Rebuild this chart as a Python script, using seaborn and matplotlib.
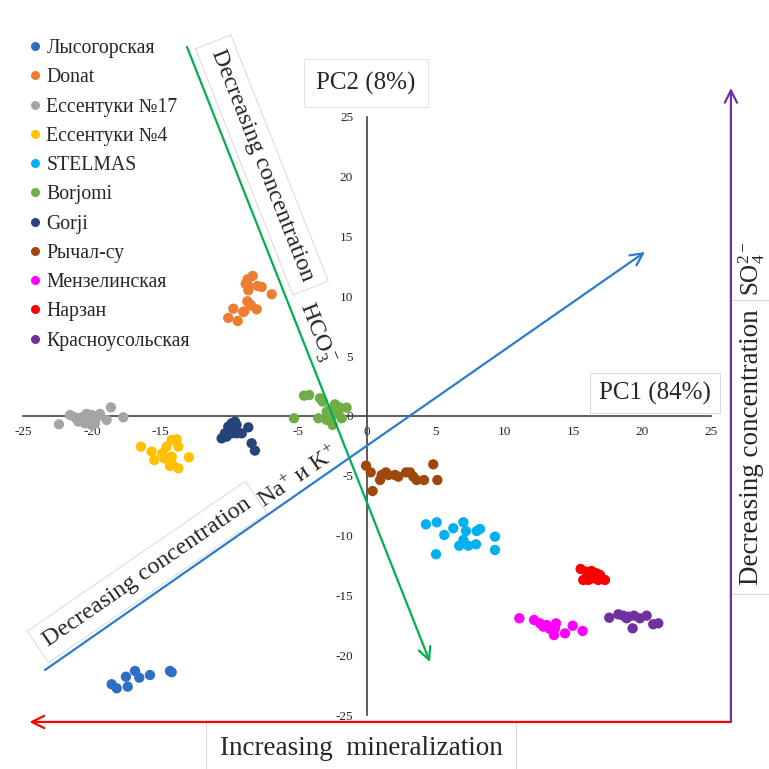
import numpy as np
import pandas as pd
import matplotlib
matplotlib.use("Agg")
import matplotlib.pyplot as plt
import seaborn as sns
from matplotlib.lines import Line2D

groups = ['Лысогорская', 'Donat', 'Ессентуки №17', 'Ессентуки №4', 'STELMAS',
          'Borjomi', 'Gorji', 'Рычал-су', 'Мензелинская', 'Нарзан', 'Красноусольская']
colors = ['#2F6EC6', '#ED7D31', '#A5A5A5', '#FFC000', '#00B0F0',
          '#70AD47', '#264478', '#9E480E', '#FF00FF', '#FF0000', '#7030A0']

lys_x = [-18.57, -18.20, -17.53, -17.40, -16.87, -16.56, -15.78, -14.33, -14.20]
lys_y = [-22.41, -22.75, -21.78, -22.61, -21.30, -21.86, -21.64, -21.30, -21.41]

donat_x = [-8.31, -8.68, -8.82, -8.63, -8.63, -7.95, -7.66, -6.93, -8.70, -8.44, -8.02, -8.92, -9.72, -10.09, -9.40, -9.00]
donat_y = [11.70, 11.42, 11.05, 10.86, 10.50, 10.86, 10.78, 10.17, 9.58, 9.25, 8.91, 8.74, 8.96, 8.19, 7.94, 8.69]

ess17_x = [-22.40, -21.60, -21.24, -21.00, -20.75, -20.39, -20.27, -20.02, -19.78, -19.78, -19.54, -19.42, -18.93, -18.62, -17.72, -20.51, -20.02]
ess17_y = [-0.70, 0.08, -0.11, -0.47, -0.11, 0.17, -0.20, 0.08, -0.33, -0.61, 0.00, 0.17, -0.33, 0.72, -0.11, -0.61, -0.75]

ess4_x = [-16.44, -15.66, -15.47, -14.89, -14.74, -14.57, -14.20, -13.84, -13.72, -14.20, -14.20, -14.33, -13.72, -12.95]
ess4_y = [-2.56, -2.98, -3.68, -3.12, -3.54, -2.56, -2.00, -1.95, -2.56, -3.40, -3.95, -4.18, -4.37, -3.45]

stel_x = [4.29, 5.07, 5.62, 6.28, 7.01, 7.20, 7.98, 8.22, 7.01, 6.71, 7.37, 7.93, 9.31, 9.31, 5.02]
stel_y = [-9.05, -8.88, -9.94, -9.38, -8.88, -9.61, -9.61, -9.44, -10.36, -10.84, -10.84, -10.72, -10.08, -11.19, -11.55]

borj_x = [-4.58, -4.20, -3.42, -3.22, -2.33, -1.96, -1.48, -2.74, -2.93, -2.09, -1.84, -2.57, -2.93, -2.50, -3.54, -5.31]
borj_y = [1.70, 1.75, 1.48, 1.20, 0.97, 0.70, 0.70, 0.50, 0.36, 0.36, -0.19, -0.06, -0.33, -0.75, -0.19, -0.19]

gorji_x = [-10.57, -10.21, -10.09, -9.84, -9.60, -9.48, -9.84, -9.48, -9.11, -8.63, -8.39, -8.15, -10.33]
gorji_y = [-1.87, -1.73, -0.89, -0.61, -0.47, -0.75, -1.45, -1.45, -1.45, -0.95, -2.28, -2.89, -1.45]

rych_x = [-0.07, 0.27, 0.41, 1.07, 0.95, 1.38, 1.55, 2.04, 2.28, 2.84, 3.13, 3.37, 3.61, 4.15, 4.82, 5.12]
rych_y = [-4.15, -4.71, -6.27, -4.93, -5.35, -4.71, -4.93, -4.93, -5.07, -4.71, -4.71, -5.07, -5.35, -5.35, -4.04, -5.35]

menz_x = [11.08, 12.15, 12.58, 13.07, 13.75, 13.67, 13.31, 13.60, 14.40, 14.96, 15.69, 12.82]
menz_y = [-16.90, -17.04, -17.32, -17.46, -17.32, -17.74, -17.79, -18.30, -18.16, -17.52, -17.96, -17.60]

narz_x = [15.54, 15.98, 16.34, 16.70, 16.95, 15.73, 16.09, 16.46, 16.82, 17.31, 16.22]
narz_y = [-12.78, -13.01, -12.95, -13.14, -13.28, -13.70, -13.70, -13.56, -13.70, -13.70, -13.34]

kras_x = [17.62, 18.28, 18.64, 19.01, 19.42, 19.85, 20.34, 19.32, 20.82, 21.19, 18.89]
kras_y = [-16.85, -16.57, -16.68, -16.77, -16.68, -16.90, -16.68, -17.74, -17.40, -17.32, -16.90]

ticks = [-25, -20, -15, -10, -5, 0, 5, 10, 15, 20, 25]

xs = [lys_x, donat_x, ess17_x, ess4_x, stel_x, borj_x, gorji_x, rych_x, menz_x, narz_x, kras_x]
ys = [lys_y, donat_y, ess17_y, ess4_y, stel_y, borj_y, gorji_y, rych_y, menz_y, narz_y, kras_y]
df = pd.concat([pd.DataFrame({'PC1': x, 'PC2': y, 'group': g}) for g, x, y in zip(groups, xs, ys)],
               ignore_index=True)

sns.set_style('white')
plt.rcParams['font.family'] = ['Liberation Serif', 'DejaVu Serif']
plt.rcParams['mathtext.fontset'] = 'custom'
plt.rcParams['mathtext.rm'] = 'Liberation Serif'
plt.rcParams['mathtext.it'] = 'Liberation Serif:italic'
plt.rcParams['mathtext.bf'] = 'Liberation Serif:bold'

fig = plt.figure(figsize=(7.69, 7.69), dpi=100)
ax = fig.add_axes([0, 0, 1, 1])
ax.set_xlim(-26.69, 29.24)
ax.set_ylim(-29.49, 34.75)

sns.scatterplot(data=df, x='PC1', y='PC2', hue='group', hue_order=groups,
                palette=colors, s=55, linewidth=0, legend=False, ax=ax, zorder=3)

# axes through origin
for side in ['top', 'right']:
    ax.spines[side].set_visible(False)
ax.spines['left'].set_position(('data', 0))
ax.spines['bottom'].set_position(('data', 0))
ax.spines['left'].set_bounds(-25, 25)
ax.spines['bottom'].set_bounds(-25, 25)
for side in ['left', 'bottom']:
    ax.spines[side].set_color('#404040')
    ax.spines[side].set_linewidth(1.2)
ax.set_xticks(ticks)
ax.set_yticks(ticks)
ax.set_xticklabels([str(t) for t in ticks])
ax.set_yticklabels([str(t) for t in ticks])
ax.tick_params(axis='x', length=0, pad=7, labelsize=9.5, labelcolor='#262626')
ax.tick_params(axis='y', length=0, pad=10, labelsize=9.5, labelcolor='#262626')
ax.set_xlabel('')
ax.set_ylabel('')
ax.grid(False)

def arrow(p0, p1, color):
    ax.annotate('', xy=p1, xytext=p0, annotation_clip=False, zorder=6,
                arrowprops=dict(arrowstyle='->', color=color, lw=1.6,
                                mutation_scale=22, shrinkA=0, shrinkB=0))

arrow((-13.09, 30.83), (4.58, -20.55), '#00B050')
arrow((-23.42, -21.22), (20.22, 13.70), '#2E7BCB')
arrow((26.47, -25.56), (-24.55, -25.56), '#FF0000')
arrow((26.47, -25.56), (26.47, 27.40), '#7030A0')

box = dict(boxstyle='square,pad=0.35', fc='white', ec='#d9d9d9', lw=0.7)

ax.text(-0.07, 27.82, 'PC2 (8%)', fontsize=18, ha='center', va='center',
        bbox=dict(boxstyle='square,pad=0.5', fc='white', ec='#e3e3e3', lw=0.7), zorder=4)
ax.text(20.95, 1.92, 'PC1 (84%)', fontsize=18, ha='center', va='center', bbox=box, zorder=4)
ax.text(-0.44, -27.74, 'Increasing  mineralization', fontsize=19.5, ha='center', va='center',
        bbox=dict(boxstyle='square,pad=0.5', fc='white', ec='#d9d9d9', lw=0.7), zorder=4)

ax.text(-7.64, 20.97, 'Decreasing concentration', fontsize=17.5, rotation=-68.4,
        rotation_mode='anchor', ha='center', va='center', bbox=box, zorder=4)
ax.text(-3.7, 6.9, 'HCO$_3^-$', fontsize=17.5, rotation=-68.4,
        rotation_mode='anchor', ha='center', va='center', zorder=4)

ax.text(-16.0, -13.03, 'Decreasing concentration', fontsize=17.5, rotation=34.5,
        rotation_mode='anchor', ha='center', va='center', bbox=box, zorder=4)
ax.text(-4.95, -5.18, 'Na$^{+}$ и K$^{+}$', fontsize=17.5, rotation=34.5,
        rotation_mode='anchor', ha='center', va='center', zorder=4)

ax.text(28.0, -2.6, 'Decreasing concentration', fontsize=19.5, rotation=90,
        rotation_mode='anchor', ha='center', va='center', bbox=box, zorder=4)
ax.text(27.95, 12.3, 'SO$_4^{2-}$', fontsize=18, rotation=90,
        rotation_mode='anchor', ha='center', va='center', zorder=4)

handles = [Line2D([0], [0], marker='o', linestyle='none', markersize=6.5,
                  markerfacecolor=c, markeredgewidth=0) for c in colors]
ax.legend(handles, groups, loc='upper left', bbox_to_anchor=(29.5 / 769, 1 - 39 / 769),
          bbox_transform=fig.transFigure, frameon=False, fontsize=14.2,
          handlelength=0.6, handletextpad=0.25, labelspacing=0.52,
          borderpad=0, borderaxespad=0)

fig.savefig('out.png', dpi=100)
